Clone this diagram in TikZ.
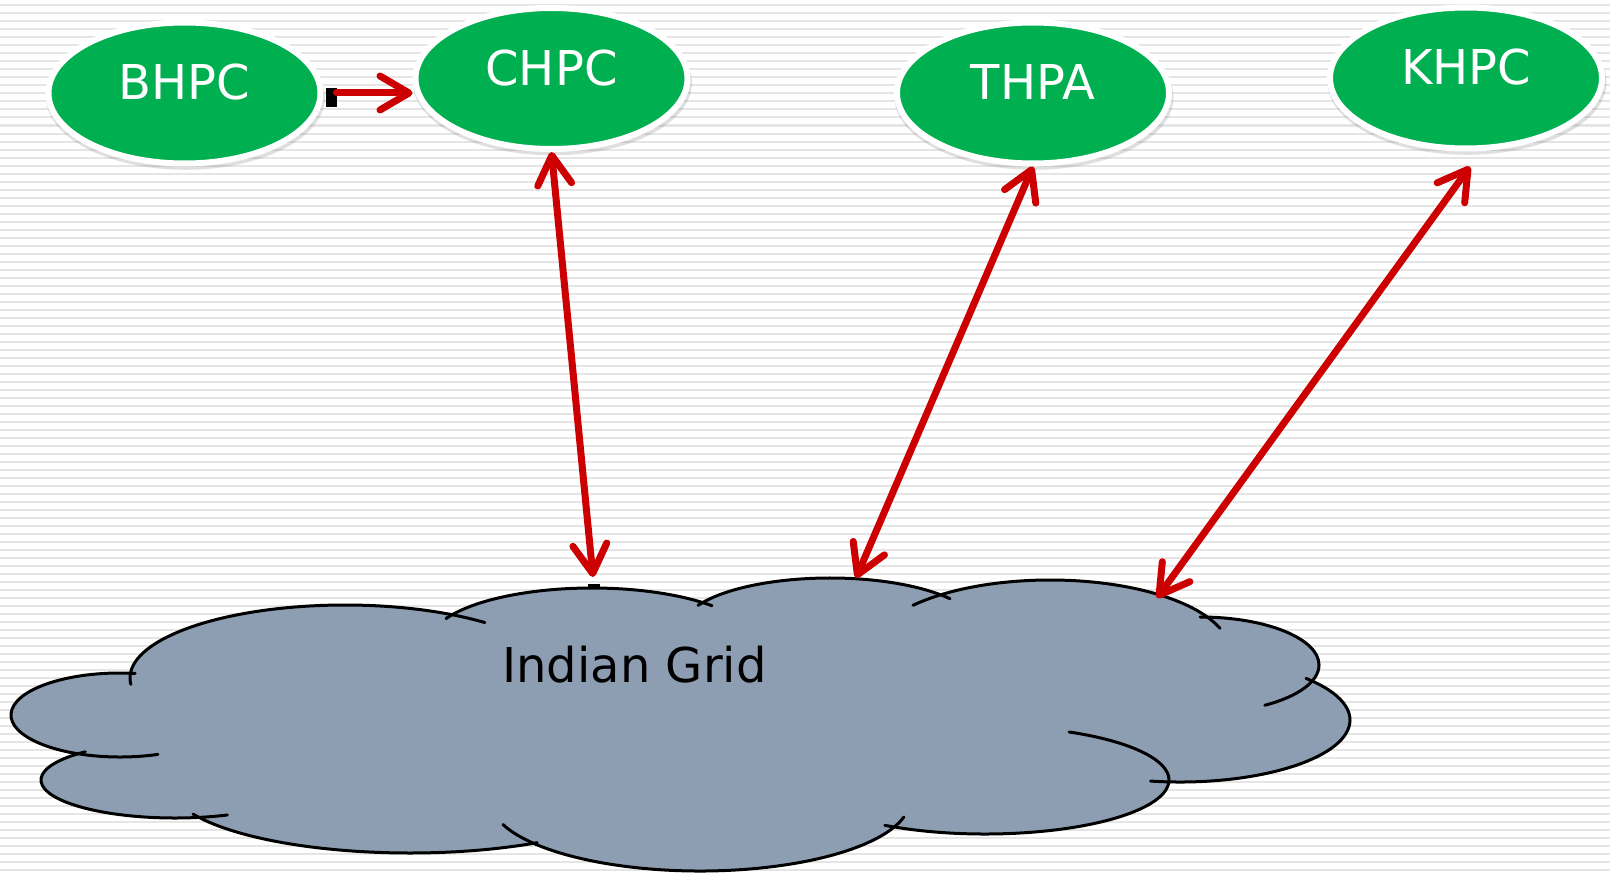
\documentclass[tikz,border=0pt]{standalone}
\usepackage{fontspec}
\setmainfont{DejaVu Sans}
\usetikzlibrary{arrows.meta,shapes.geometric,shadows}
\definecolor{nodegreen}{RGB}{0,176,80}
\definecolor{arrowred}{RGB}{204,0,0}
\definecolor{cloudgray}{RGB}{142,158,178}
\definecolor{stripegray}{RGB}{229,229,229}
\begin{document}
\begin{tikzpicture}[x=0.5pt,y=-0.5pt,
  stripe/.style={draw=stripegray, line width=1pt},
  hub/.style={ellipse, fill=nodegreen, draw=white, line width=3pt,
    minimum width=136pt, minimum height=70.5pt, inner sep=0pt,
    text=white, font=\fontsize{24pt}{28pt}\selectfont,
    text height=18pt, text depth=11pt,
    drop shadow={opacity=0.25, shadow xshift=0.5pt, shadow yshift=-2.2pt, shadow scale=1.025}},
  cloudline/.style={draw=black, line width=1.5pt, line cap=round},
  gridlabel/.style={font=\fontsize{24pt}{28pt}\selectfont, text=black, inner sep=0pt},
  conn/.style={draw=arrowred, line width=3.5pt, line cap=round, line join=round,
    >={Straight Barb[length=14.5pt, width=17pt, line cap=round, line join=round]}}]
% background
\fill[white] (0,0) rectangle (1610,872);
\useasboundingbox (0,0) rectangle (1610,872);
\foreach \k in {0,...,108} \draw[stripe] (0,{5.5+8*\k}) -- (1610,{5.5+8*\k});

% cloud fill
\foreach \cx/\cy/\rx/\ry in {345/678/215/73, 120/715/109/42, 175/780/134/38, 410/785/240/68,
  700/800/210/71, 985/780/184/54, 1180/720/170/62, 1200/665/119/48, 1050/652/180/72,
  592/642/162/54, 830/628/148/50}
  \fill[cloudgray] (\cx,\cy) ellipse [x radius=\rx, y radius=\ry];
\fill[cloudgray] (200,720) -- (340,640) -- (590,640) -- (830,628) -- (1050,650) -- (1190,680)
  -- (1200,730) -- (1000,790) -- (700,820) -- (410,800) -- (200,780) -- cycle;
% cloud outline arcs
\foreach \cx/\cy/\rx/\ry/\a/\b in {345/678/215/73/175/310.6, 120/715/109/42/278/69.6,
  175/780/134/38/228/67, 410/785/240/68/154.7/58, 700/800/210/71/159.8/13.8,
  985/780/184/54/123/-62.8, 1180/720/170/62/100/-42.2, 1200/665/119/48/-90/57,
  1050/652/180/72/220.4/340.8, 592/642/162/54/205.7/317.8, 830/628/148/50/206.9/324.2}
  \draw[cloudline] ({\cx+\rx*cos(\a)},{\cy+\ry*sin(\a)}) arc[start angle=\a, end angle=\b, x radius=\rx, y radius=\ry];
\node[gridlabel, anchor=base] (grid) at (634.5,682) {Indian Grid};
\fill[black] (588,584) rectangle (600,589);

% plants
\node[hub] (bhpc) at (184.5,93) {BHPC};
\node[hub] (chpc) at (551.5,78.5) {CHPC};
\node[hub] (thpa) at (1033,93) {THPA};
\node[hub] (khpc) at (1466,78) {KHPC};

% grid attachment points
\coordinate (g1) at (593,577);
\coordinate (g2) at (856,578);
\coordinate (g3) at (1157,598);

% connectors
\node[fill=black, inner sep=0pt, minimum width=5.5pt, minimum height=9.5pt, anchor=north west]
  (handle) at ([xshift=1.25pt,yshift=2.5pt]bhpc.east) {};
\draw[conn, ->] ([xshift=6.5pt]bhpc.east) -- (bhpc.east -| chpc.west);
\draw[conn, <->] (chpc.south) -- (g1);
\draw[conn, <->] (thpa.south) -- (g2);
\draw[conn, <->] ([xshift=2pt,yshift=-7.5pt]khpc.south) -- (g3);
\end{tikzpicture}
\end{document}
